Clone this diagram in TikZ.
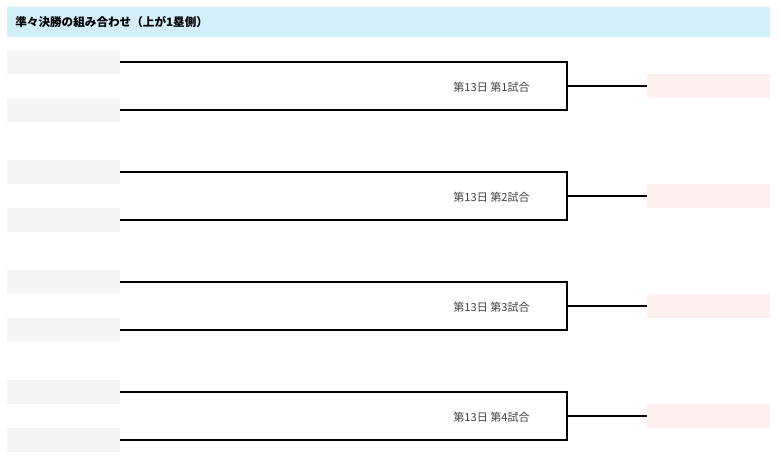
\documentclass[tikz,border=0pt]{standalone}
\usepackage{fontspec}
\setmainfont{Noto Sans CJK JP}
\usetikzlibrary{positioning}
\definecolor{headblue}{HTML}{D4EFFC}
\definecolor{slotgray}{HTML}{F4F4F4}
\definecolor{winpink}{HTML}{FDEFEF}
\begin{document}
\begin{tikzpicture}[x=0.02cm,y=-0.02cm,
    slot/.style={fill=slotgray, minimum width=2.26cm, minimum height=0.48cm, inner sep=0pt},
    win/.style={fill=winpink, minimum width=2.46cm, minimum height=0.48cm, inner sep=0pt},
    bracket/.style={draw, line width=1.2pt},
    lbl/.style={font=\fontsize{6.3}{8}\selectfont, text=black!75, anchor=east, inner sep=0pt}]
  \useasboundingbox (0,0) rectangle (780,463);
  \fill[headblue] (7,7) rectangle (770,37);
  \node[anchor=west, inner sep=0pt, font=\fontsize{6.6}{8}\selectfont\bfseries] (head) at (15,22) {準々決勝の組み合わせ（上が1塁側）};
  \foreach \i in {1,...,4} {
    \pgfmathsetmacro{\yt}{62+110*(\i-1)}
    \node[slot, anchor=east] (a\i) at (120,\yt) {};
    \node[slot, anchor=east] (b\i) at (120,\yt+48) {};
    \coordinate (m\i) at (567,\yt+24);
    \node[win, anchor=west] (w\i) at (647,\yt+24) {};
    \draw[bracket] (a\i.east) -| (m\i) |- (b\i.east);
    \draw[bracket] (m\i) -- (w\i.west);
    \node[lbl] (g\i) at (530,\yt+25) {第13日 第\i 試合};
  }
\end{tikzpicture}
\end{document}
